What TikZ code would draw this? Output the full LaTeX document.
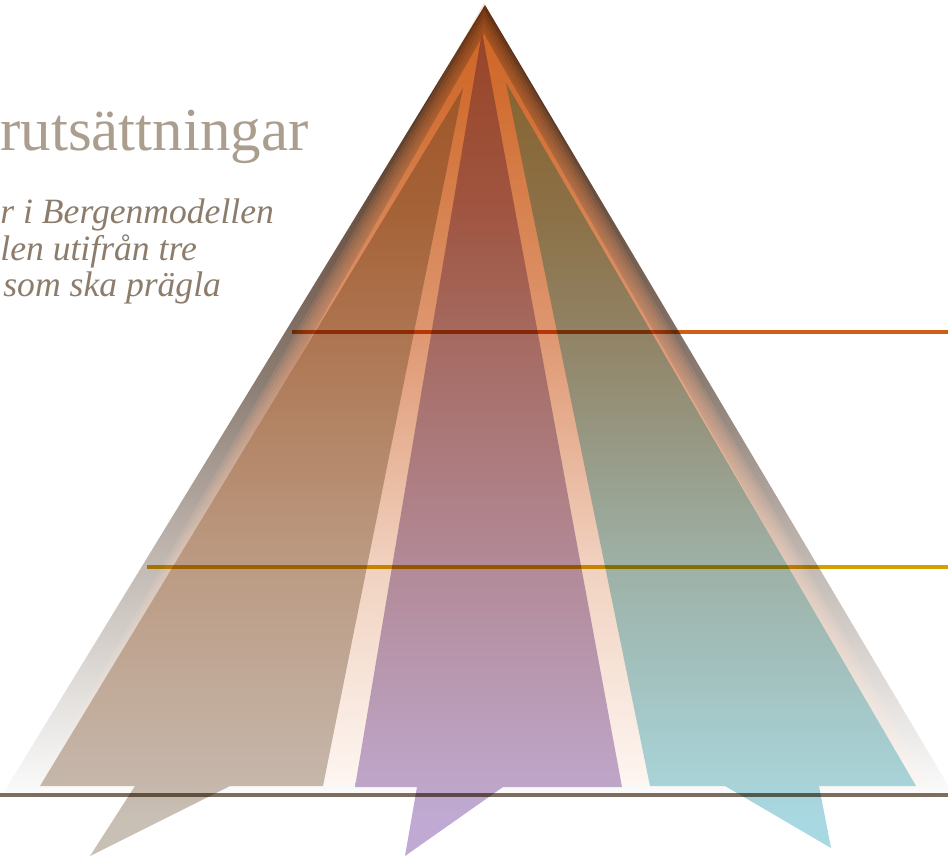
\documentclass[tikz,border=0pt]{standalone}
\usepackage{fontspec}
\setmainfont{Liberation Serif}
\usepackage{xcolor}
\definecolor{bergtitle}{HTML}{AB9E8E}
\definecolor{bergtext}{HTML}{8C7C6C}
\definecolor{bergorange}{HTML}{D05F16}
\definecolor{berggold}{HTML}{D4A000}
\definecolor{bergbase}{HTML}{7D6E5F}

\definecolor{pdkA}{RGB}{75,35,12}
\definecolor{pdkB}{RGB}{98,68,48}
\definecolor{pdkC}{RGB}{108,82,66}
\definecolor{pdkD}{RGB}{140,125,115}
\definecolor{pdkE}{RGB}{185,175,168}
\definecolor{pdkF}{RGB}{228,225,222}
\definecolor{pdkG}{RGB}{250,250,250}

\definecolor{porA}{RGB}{205,100,35}
\definecolor{porB}{RGB}{210,110,50}
\definecolor{porC}{RGB}{215,130,80}
\definecolor{porD}{RGB}{222,150,112}
\definecolor{porE}{RGB}{240,208,190}
\definecolor{porF}{RGB}{253,245,240}
\definecolor{porG}{RGB}{255,252,250}

\definecolor{pleA}{RGB}{152,80,36}
\definecolor{pleB}{RGB}{160,88,42}
\definecolor{pleC}{RGB}{165,98,55}
\definecolor{pleD}{RGB}{173,116,80}
\definecolor{pleE}{RGB}{187,154,130}
\definecolor{pleF}{RGB}{197,182,170}
\definecolor{pleG}{RGB}{200,191,181}

\definecolor{pmiA}{RGB}{148,66,38}
\definecolor{pmiB}{RGB}{155,75,48}
\definecolor{pmiC}{RGB}{160,85,65}
\definecolor{pmiD}{RGB}{165,105,95}
\definecolor{pmiE}{RGB}{178,137,150}
\definecolor{pmiF}{RGB}{190,165,200}
\definecolor{pmiG}{RGB}{192,170,212}

\definecolor{priA}{RGB}{128,92,44}
\definecolor{priB}{RGB}{135,102,52}
\definecolor{priC}{RGB}{140,112,70}
\definecolor{priD}{RGB}{145,130,100}
\definecolor{priE}{RGB}{157,176,165}
\definecolor{priF}{RGB}{168,210,215}
\definecolor{priG}{RGB}{168,216,226}

\pgfdeclareverticalshading{pyrdark}{100bp}{color(0bp)=(pdkG); color(28.86bp)=(pdkG);
  color(34.11bp)=(pdkF); color(44.04bp)=(pdkE); color(52.80bp)=(pdkD);
  color(62.73bp)=(pdkC); color(66.24bp)=(pdkB); color(74.71bp)=(pdkA); color(100bp)=(pdkA)}
\pgfdeclareverticalshading{pyrglow}{100bp}{color(0bp)=(porG); color(28.86bp)=(porG);
  color(29.44bp)=(porF); color(42.29bp)=(porE); color(55.72bp)=(porD);
  color(62.73bp)=(porC); color(69.16bp)=(porB); color(75bp)=(porA); color(100bp)=(porA)}
\pgfdeclareverticalshading{pyrleft}{100bp}{color(0bp)=(pleG); color(27.22bp)=(pleG);
  color(29.44bp)=(pleF); color(42.29bp)=(pleE); color(55.72bp)=(pleD);
  color(62.73bp)=(pleC); color(69.16bp)=(pleB); color(75bp)=(pleA); color(100bp)=(pleA)}
\pgfdeclareverticalshading{pyrmid}{100bp}{color(0bp)=(pmiG); color(27.22bp)=(pmiG);
  color(29.44bp)=(pmiF); color(42.29bp)=(pmiE); color(55.72bp)=(pmiD);
  color(62.73bp)=(pmiC); color(69.16bp)=(pmiB); color(75bp)=(pmiA); color(100bp)=(pmiA)}
\pgfdeclareverticalshading{pyrright}{100bp}{color(0bp)=(priG); color(27.22bp)=(priG);
  color(29.44bp)=(priF); color(42.29bp)=(priE); color(55.72bp)=(priD);
  color(62.73bp)=(priC); color(69.16bp)=(priB); color(75bp)=(priA); color(100bp)=(priA)}

\begin{document}
\begin{tikzpicture}[
    x=0.5pt, y=-0.5pt,
    ttl/.style={anchor=base west, inner sep=0pt, text=bergtitle, font=\fontsize{30.5}{36}\selectfont},
    sub/.style={anchor=base west, inner sep=0pt, text=bergtext, font=\fontsize{17.8}{21}\selectfont\itshape},
    rule/.style={line width=1.75pt, blend mode=multiply}]
  \useasboundingbox (0,0) rectangle (948,856);

  \begin{scope}
    \clip (485,5) -- (952,792) -- (4,792) -- cycle;
    \shade[shading=pyrdark] (0,0) rectangle (948,856);
  \end{scope}

  \foreach \s/\o in {1.0250/0.2, 1.0125/0.2, 1/0.2, 0.9875/0.2, 0.9750/0.2, 0.9650/1} {
    \begin{scope}[opacity=\o]
      \clip[scale around={\s:(483.5,533.2)}] (484,16) -- (927,792) -- (41,792) -- cycle;
      \shade[shading=pyrglow] (0,0) rectangle (948,856);
    \end{scope}
  }

  \begin{scope}
    \clip (463,88) -- (323,786) -- (230,786) -- (90,856) -- (135,786) -- (40,786) -- cycle;
    \shade[shading=pyrleft] (0,0) rectangle (948,856);
  \end{scope}
  \begin{scope}
    \clip (482,32) -- (622,787) -- (503,787) -- (405,856) -- (417,787) -- (355,787) -- cycle;
    \shade[shading=pyrmid] (0,0) rectangle (948,856);
  \end{scope}
  \begin{scope}
    \clip (506,83) -- (916,786) -- (819,786) -- (831,848) -- (725,786) -- (650,786) -- cycle;
    \shade[shading=pyrright] (0,0) rectangle (948,856);
  \end{scope}

  \coordinate (top l) at (292,332);
  \coordinate (top r) at (948,332);
  \coordinate (mid l) at (147,567);
  \coordinate (mid r) at (948,567);
  \coordinate (base l) at (0,795);
  \coordinate (base r) at (948,795);
  \draw[rule, bergorange] (top l) -- (top r);
  \draw[rule, berggold] (mid l) -- (mid r);
  \draw[rule, bergbase, line width=2.25pt] (base l) -- (base r);

  \node[ttl] (title) at (0,151) {rutsättningar};
  \node[sub] (intro1) at (0,223) {r i Bergenmodellen};
  \node[sub] (intro2) at (0,260) {len utifrån tre};
  \node[sub] (intro3) at (3,296) {som ska prägla};
\end{tikzpicture}
\end{document}
